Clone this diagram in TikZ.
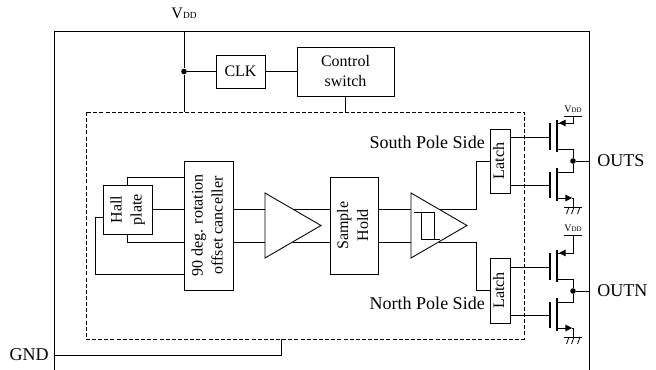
\documentclass[tikz,border=0pt]{standalone}
\usepackage{fontspec}
\usepackage{graphicx}
\setmainfont{Liberation Serif}
\usetikzlibrary{arrows.meta}
\newcommand{\uptext}[1]{\rotatebox{90}{\begin{tabular}{@{}c@{}}#1\end{tabular}}}
\newcommand{\vddbig}{V{\fontsize{7}{8}\selectfont DD}}
\newcommand{\vddsmall}{V{\fontsize{5.2}{6}\selectfont DD}}
\tikzset{
	wire/.style={line width=0.65pt},
	boxnode/.style={draw,line width=0.65pt,inner sep=0pt,outer sep=0pt,align=center,font=\fontsize{12}{15}\selectfont},
	size/.style 2 args={minimum width=#1*0.75pt,minimum height=#2*0.75pt},
	pinlabel/.style={inner sep=0pt,font=\fontsize{13.5}{15}\selectfont},
	dot/.style={circle,fill=black,inner sep=0pt,minimum size=4.2pt},
}
\begin{document}
\begin{tikzpicture}[x=0.75pt,y=-0.75pt]
	\useasboundingbox (0,0) rectangle (656,370);
	% outer frame and pins
	\coordinate (frameTL) at (54,31);
	\coordinate (frameTR) at (589,31);
	\coordinate (frameBL) at (54,370);
	\coordinate (frameBR) at (589,370);
	\draw[wire] (frameBL) -- (frameTL) -- (frameTR) -- (frameBR);
	\node[pinlabel,font=\fontsize{12}{15}\selectfont] (vddpin) at (184,13) {\vddbig};
	\node[pinlabel,anchor=east] (gndpin) at (49,355) {GND};
	% dashed block
	\coordinate (dashTL) at (86,112);
	\coordinate (dashBR) at (524,339);
	\draw[line width=0.6pt,dash pattern=on 3pt off 1.6pt] (dashTL) rectangle (dashBR);
	\coordinate (gndcorner) at (281,355);
	\draw[wire] (54,355) -- (gndcorner) -- (gndcorner |- dashBR);
	% top row
	\node[boxnode,size={49}{33}] (clk) at (240.5,71.5) {CLK};
	\node[boxnode,size={97}{49}] (ctrl) at (345.5,71.5) {Control\\switch};
	\node[dot] (vddjoin) at (184,71.5) {};
	\draw[wire] (184,31) -- (vddjoin) -- (184,112);
	\draw[wire] (vddjoin) -- (clk);
	\draw[wire] (clk) -- (ctrl);
	\draw[wire] (ctrl.south) -- (ctrl.south |- dashTL);
	% signal chain
	\node[boxnode,size={49}{49}] (hall) at (127.5,209.5) {\uptext{Hall\\plate}};
	\node[boxnode,size={49}{129}] (canc) at (208.5,225.5) {\uptext{90 deg. rotation\\offset canceller}};
	\node[boxnode,size={48}{97}] (hold) at (354,225.5) {\uptext{Sample\\Hold}};
	\coordinate (cancA) at (184,177);
	\coordinate (cancB) at (184,209.5);
	\coordinate (cancC) at (184,242);
	\coordinate (cancD) at (184,274);
	\draw[wire] (hall.north) |- (cancA);
	\draw[wire] (hall.east) -- (cancB);
	\draw[wire] (hall.south) |- (cancC);
	\draw[wire] (103,217) -- (95,217) |- (cancD);
	% amplifier
	\coordinate (ampT) at (265,193);
	\coordinate (ampB) at (265,258);
	\coordinate (ampR) at (321,225.5);
	\draw[wire] (ampT) -- (ampR) -- (ampB) -- cycle;
	\draw[wire] (233,209.5) -- (265,209.5);
	\draw[wire] (233,242) -- (265,242);
	\draw[wire] (293,209.5) -- (330,209.5);
	\draw[wire] (293,242) -- (330,242);
	% comparator with hysteresis
	\coordinate (cmpT) at (411,193);
	\coordinate (cmpB) at (411,258);
	\coordinate (cmpR) at (467,225.5);
	\draw[wire] (cmpT) -- (cmpR) -- (cmpB) -- cycle;
	\draw[wire] (378,209.5) -- (411,209.5);
	\draw[wire] (378,242) -- (411,242);
	\draw[wire] (414,212) -- (434,212) -- (434,239);
	\draw[wire] (421,212) -- (421,239) -- (440,239);
	% latches
	\node[boxnode,size={16}{64}] (latchS) at (500,161) {\uptext{Latch}};
	\node[boxnode,size={16}{65}] (latchN) at (500,290.5) {\uptext{Latch}};
	\draw[wire] (439,209.5) -- (476,209.5) |- (latchS.west);
	\draw[wire] (439,242) -- (476,242) |- (latchN.west);
	\node[pinlabel,anchor=east] (southlabel) at (485,142) {South Pole Side};
	\node[pinlabel,anchor=east] (northlabel) at (485,303) {North Pole Side};
	% output stages
	\foreach \side/\ymid/\vddy/\outname in {S/161/116/OUTS,N/291/235/OUTN} {
		\node[dot] (out\side) at (573,\ymid) {};
		\node[pinlabel,anchor=west] (pin\side) at (597,\ymid) {\outname};
		\draw[wire] (out\side) -- (589,\ymid);
		% upper transistor
		\draw[wire] (latch\side.east |- 0,{\ymid-24}) -- (550,{\ymid-24});
		\draw[line width=0.8pt] (550,{\ymid-38}) -- (550,{\ymid-11});
		\draw[line width=0.8pt] (557,{\ymid-41}) -- (557,{\ymid-9});
		\draw[wire] (564,\vddy) -- (582,\vddy);
		\draw[wire] (573,\vddy) |- (557,{\ymid-38});
		\draw[-{Triangle[length=5pt,width=5pt]},wire] (573,{\ymid-38}) -- (559,{\ymid-38});
		\draw[wire] (557,{\ymid-12}) -| (out\side);
		\node[inner sep=0pt,anchor=base,font=\fontsize{7.5}{8}\selectfont] (vdd\side) at (573,{\vddy-3}) {\vddsmall};
		% lower transistor
		\draw[wire] (latch\side.east |- 0,{\ymid+24}) -- (550,{\ymid+24});
		\draw[line width=0.8pt] (550,{\ymid+11}) -- (550,{\ymid+37});
		\draw[line width=0.8pt] (557,{\ymid+7}) -- (557,{\ymid+40});
		\draw[wire] (557,{\ymid+11}) -| (out\side);
		\draw[-{Triangle[length=5pt,width=5pt]},wire] (557,{\ymid+37}) -- (572,{\ymid+37});
		\draw[wire] (572,{\ymid+37}) -| (573,{\ymid+46});
		\draw[wire] (564,{\ymid+46}) -- (582,{\ymid+46});
		\foreach \hx in {569,574,580}
			\draw[line width=0.6pt] (\hx,{\ymid+46}) -- ({\hx-2.5},{\ymid+53});
	}
\end{tikzpicture}
\end{document}
